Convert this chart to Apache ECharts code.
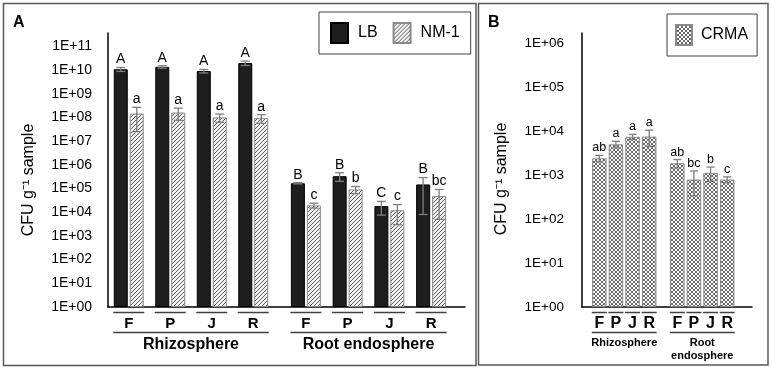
<!DOCTYPE html>
<html>
<head>
<meta charset="utf-8">
<script src="https://cdn.jsdelivr.net/npm/echarts@6/dist/echarts.min.js"></script>
<style>
html, body { margin: 0; padding: 0; background: #fff; }
#chart { width: 772px; height: 370px; }
</style>
</head>
<body>
<div id="chart"></div>
<script>
// sites
var sites = ['F', 'P', 'J', 'R'];
// A: LB / NM-1, CFU g-1 sample
var lbRhizo = [1.07e10, 1.35e10, 9.0e9, 1.95e10];
var lbRhizoSd = [2.0e9, 1.6e9, 1.5e9, 4.0e9];
var nmRhizo = [1.45e8, 1.6e8, 1.0e8, 9.3e7];
var nmRhizoSd = [1.2e8, 8.5e7, 3.8e7, 3.7e7];
var lbEndo = [1.66e5, 3.3e5, 1.8e4, 1.48e5];
var lbEndoSd = [1.0e4, 1.3e5, 1.05e4, 1.4e5];
var nmEndo = [1.94e4, 9.1e4, 1.2e4, 4.8e4];
var nmEndoSd = [4.5e3, 3.0e4, 9.0e3, 4.3e4];
// B: CRMA
var crmaRhizo = [2.4e3, 5.0e3, 7.4e3, 7.5e3];
var crmaRhizoSd = [4.0e2, 8.5e2, 1.0e3, 3.0e3];
var crmaEndo = [1.85e3, 7.9e2, 1.12e3, 7.9e2];
var crmaEndoSd = [4.0e2, 4.5e2, 4.0e2, 1.2e2];
// letras de significancia
var lbRhizoSig = ['A', 'A', 'A', 'A'];
var nmRhizoSig = ['a', 'a', 'a', 'a'];
var lbEndoSig = ['B', 'B', 'C', 'B'];
var nmEndoSig = ['c', 'b', 'c', 'bc'];
var crmaRhizoSig = ['ab', 'a', 'a', 'a'];
var crmaEndoSig = ['ab', 'bc', 'b', 'c'];

var FONT = '"Liberation Sans", Arial, sans-serif';
var maxA = Math.pow(10, 11.56);
var maxB = Math.pow(10, 6.23);

// patrones de relleno
function tile(size, bg, fg, pts) {
    var c = document.createElement('canvas');
    c.width = size; c.height = size;
    var g = c.getContext('2d');
    g.fillStyle = bg; g.fillRect(0, 0, size, size);
    g.fillStyle = fg;
    pts.forEach(function (p) { g.fillRect(p[0], p[1], 1, 1); });
    return c;
}
var hatch = tile(4, '#f2f2f2', '#5e5e5e', [[0, 3], [1, 2], [2, 1], [3, 0]]);
var cross = tile(4, '#ffffff', '#6a6a6a', [[0, 0], [1, 1], [2, 2], [3, 3], [3, 0], [2, 1], [1, 2], [0, 3]]);

var lbStyle = { color: '#1e1e1e', borderColor: '#000', borderWidth: 1 };
var nmStyle = { color: { image: hatch, repeat: 'repeat' }, borderColor: '#8a8a8a', borderWidth: 1 };
var crStyle = { color: { image: cross, repeat: 'repeat' }, borderColor: '#8a8a8a', borderWidth: 1 };

function logLabel(v) {
    var e = Math.log10(v);
    var r = Math.round(e);
    if (Math.abs(e - r) > 0.01) return '';
    return '1E+' + (r < 10 ? '0' : '') + r;
}

function frameAxes(grid, max, fs, margin) {
    return {
        x: {
            type: 'value', gridIndex: grid, min: 0, max: 1,
            axisLine: { show: true, onZero: false, lineStyle: { color: '#000', width: 1.5 } },
            axisTick: { show: false }, axisLabel: { show: false }, splitLine: { show: false }
        },
        y: {
            type: 'log', gridIndex: grid, min: 1, max: max, interval: 1,
            axisLine: { show: true, lineStyle: { color: '#000', width: 1.5 } },
            axisTick: { show: false }, splitLine: { show: false },
            axisLabel: { formatter: logLabel, color: '#000', fontSize: fs, fontFamily: FONT, margin: margin }
        }
    };
}

function barAxes(grid, max, name, fs, nfs, gap) {
    return {
        x: {
            type: 'category', gridIndex: grid, data: sites,
            axisLine: { show: false }, axisTick: { show: false },
            axisLabel: { color: '#000', fontWeight: 'bold', fontSize: fs, fontFamily: FONT, margin: 9 },
            name: name, nameLocation: 'middle', nameGap: gap,
            nameTextStyle: { color: '#000', fontWeight: 'bold', fontSize: nfs, fontFamily: FONT, lineHeight: nfs + 2 }
        },
        y: { type: 'log', gridIndex: grid, min: 1, max: max, show: false }
    };
}

function errSeries(axis, means, sds, sigs, off, cap, fs) {
    return {
        name: 'err' + axis + off, type: 'custom', xAxisIndex: axis, yAxisIndex: axis, z: 5,
        data: means.map(function (m, i) { return [i, m, sds[i]]; }),
        renderItem: function (params, api) {
            var i = api.value(0), m = api.value(1), s = api.value(2);
            var hi = api.coord([i, m + s]);
            var lo = api.coord([i, Math.max(m - s, 1)]);
            var x = hi[0] + off;
            var st = { stroke: '#7f7f7f', lineWidth: 1.3 };
            return {
                type: 'group', children: [
                    { type: 'line', shape: { x1: x, y1: hi[1], x2: x, y2: lo[1] }, style: st },
                    { type: 'line', shape: { x1: x - cap, y1: hi[1], x2: x + cap, y2: hi[1] }, style: st },
                    { type: 'line', shape: { x1: x - cap, y1: lo[1], x2: x + cap, y2: lo[1] }, style: st },
                    {
                        type: 'text', x: x, y: hi[1] - 1,
                        style: { text: sigs[params.dataIndex], fill: '#000', font: fs + 'px ' + FONT, align: 'center', verticalAlign: 'bottom' }
                    }
                ]
            };
        }
    };
}

var aFrame = frameAxes(0, maxA, 14, 16);
var aRh = barAxes(1, maxA, 'Rhizosphere', 15, 16, 27);
var aEn = barAxes(2, maxA, 'Root endosphere', 15, 16, 27);
var bFrame = frameAxes(3, maxB, 13.5, 18);
var bRh = barAxes(4, maxB, 'Rhizosphere', 16, 11, 29);
var bEn = barAxes(5, maxB, 'Root\nendosphere', 16, 11, 29);
var axes = [aFrame, aRh, aEn, bFrame, bRh, bEn];

var chart = echarts.init(document.getElementById('chart'));
var option = {
    animation: false,
    textStyle: { fontFamily: FONT },
    grid: [
        { left: 108, top: 33, width: 357, height: 274 },
        { left: 108, top: 33, width: 166, height: 274 },
        { left: 285, top: 33, width: 167, height: 274 },
        { left: 582, top: 33, width: 170, height: 274 },
        { left: 591, top: 33, width: 66.5, height: 274 },
        { left: 669, top: 33, width: 66.5, height: 274 }
    ],
    xAxis: axes.map(function (a) { return a.x; }),
    yAxis: axes.map(function (a) { return a.y; }),
    legend: [
        {
            data: ['LB', 'NM-1'], left: 319, top: 12, orient: 'horizontal', selectedMode: false,
            icon: 'rect', itemWidth: 17, itemHeight: 20, itemGap: 15,
            padding: [10, 11, 10, 11], borderColor: '#404040', borderWidth: 1,
            textStyle: { fontSize: 16, color: '#000', fontFamily: FONT, padding: [0, 0, 0, 5] }
        },
        {
            data: ['CRMA'], left: 667, top: 14, selectedMode: false,
            icon: 'rect', itemWidth: 16, itemHeight: 20,
            padding: [10, 9, 10, 8], borderColor: '#404040', borderWidth: 1,
            textStyle: { fontSize: 16, color: '#000', fontFamily: FONT, padding: [0, 0, 0, 4] }
        }
    ],
    series: [
        { name: 'LB', type: 'bar', xAxisIndex: 1, yAxisIndex: 1, data: lbRhizo, barWidth: 14, barGap: '14%', itemStyle: lbStyle },
        { name: 'NM-1', type: 'bar', xAxisIndex: 1, yAxisIndex: 1, data: nmRhizo, barWidth: 14, barGap: '14%', itemStyle: nmStyle },
        { name: 'LB', type: 'bar', xAxisIndex: 2, yAxisIndex: 2, data: lbEndo, barWidth: 14, barGap: '14%', itemStyle: lbStyle },
        { name: 'NM-1', type: 'bar', xAxisIndex: 2, yAxisIndex: 2, data: nmEndo, barWidth: 14, barGap: '14%', itemStyle: nmStyle },
        { name: 'CRMA', type: 'bar', xAxisIndex: 4, yAxisIndex: 4, data: crmaRhizo, barWidth: 14.5, itemStyle: crStyle },
        { name: 'CRMA', type: 'bar', xAxisIndex: 5, yAxisIndex: 5, data: crmaEndo, barWidth: 14.5, itemStyle: crStyle },
        errSeries(1, lbRhizo, lbRhizoSd, lbRhizoSig, -8, 4.5, 14),
        errSeries(1, nmRhizo, nmRhizoSd, nmRhizoSig, 8, 4.5, 14),
        errSeries(2, lbEndo, lbEndoSd, lbEndoSig, -8, 4.5, 14),
        errSeries(2, nmEndo, nmEndoSd, nmEndoSig, 8, 4.5, 14),
        errSeries(4, crmaRhizo, crmaRhizoSd, crmaRhizoSig, 0, 4, 12.5),
        errSeries(5, crmaEndo, crmaEndoSd, crmaEndoSig, 0, 4, 12.5)
    ]
};
chart.setOption(option);

// lineas de agrupacion bajo el eje
var g = [];
function lines(axis, half) {
    var first = chart.convertToPixel({ xAxisIndex: axis }, 0);
    var last = chart.convertToPixel({ xAxisIndex: axis }, sites.length - 1);
    sites.forEach(function (s, i) {
        var c = chart.convertToPixel({ xAxisIndex: axis }, i);
        g.push({ type: 'line', shape: { x1: c - half, y1: 312.5, x2: c + half, y2: 312.5 }, style: { stroke: '#404040', lineWidth: 1.5 } });
    });
    g.push({ type: 'line', shape: { x1: first - half, y1: 332.5, x2: last + half, y2: 332.5 }, style: { stroke: '#404040', lineWidth: 1.5 } });
}
lines(1, 15.5); lines(2, 15.5); lines(4, 7.5); lines(5, 7.5);

g.push(
    { type: 'rect', shape: { x: 3.5, y: 3.5, width: 472.5, height: 362 }, style: { fill: 'none', stroke: '#595959', lineWidth: 1.5 } },
    { type: 'rect', shape: { x: 478.5, y: 3.5, width: 289.5, height: 361.5 }, style: { fill: 'none', stroke: '#595959', lineWidth: 1.5 } },
    { type: 'text', x: 13, y: 23, style: { text: 'A', fill: '#000', font: 'bold 16px ' + FONT, verticalAlign: 'middle' } },
    { type: 'text', x: 488, y: 23, style: { text: 'B', fill: '#000', font: 'bold 16px ' + FONT, verticalAlign: 'middle' } },
    { type: 'text', x: 29, y: 180, rotation: Math.PI / 2, style: { text: 'CFU g⁻¹ sample', fill: '#000', font: '16px ' + FONT, align: 'center', verticalAlign: 'middle' } },
    { type: 'text', x: 502, y: 179, rotation: Math.PI / 2, style: { text: 'CFU g⁻¹ sample', fill: '#000', font: '16px ' + FONT, align: 'center', verticalAlign: 'middle' } }
);
chart.setOption({ graphic: g });
</script>
</body>
</html>
